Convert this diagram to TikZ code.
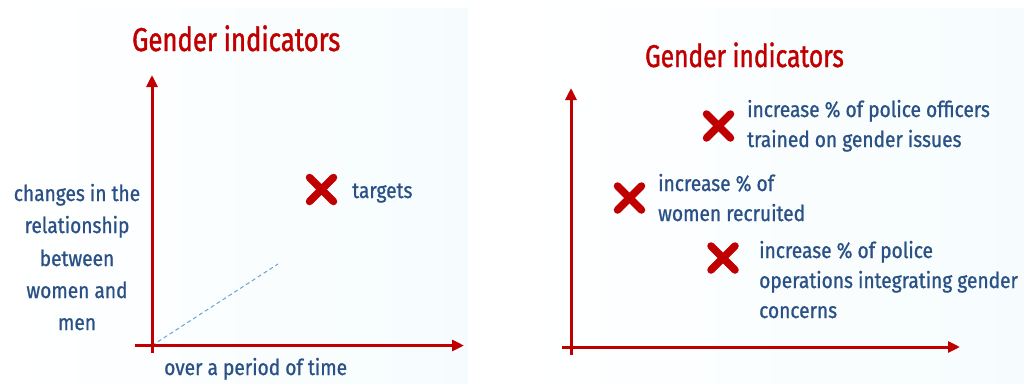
\documentclass[tikz,border=0pt]{standalone}
\usepackage{fontspec}
\setmainfont{Fira Sans}
\newfontfamily\ttlfont[FakeStretch=0.78,FakeBold=1.2]{Fira Sans}
\newfontfamily\txtfont[FakeStretch=0.87,FakeBold=0.9]{Fira Sans}
\usetikzlibrary{arrows.meta,calc}
\definecolor{axred}{HTML}{C00000}
\definecolor{txtblue}{HTML}{2A5186}
\definecolor{dashblue}{HTML}{6FA0D8}
\definecolor{panelend}{HTML}{F6FCFE}
\tikzset{
  axis/.style={draw=axred, line width=3pt, -{Triangle[length=12pt,width=11pt]}},
  ttl/.style={text=axred, font=\ttlfont\fontsize{33}{33}\selectfont, inner sep=0pt, anchor=base west},
  ttlsm/.style={ttl, font=\ttlfont\fontsize{31.5}{31.5}\selectfont},
  lbl/.style={text=txtblue, font=\txtfont\fontsize{22}{22}\selectfont, inner sep=0pt, anchor=base west},
  clbl/.style={lbl, anchor=base},
  xmark/.style={draw=axred, line width=7.5pt, line cap=round},
  panel/.style={left color=white, right color=panelend, draw=none}
}
\begin{document}
\begin{tikzpicture}[x=1pt,y=-1pt]
\useasboundingbox (0,0) rectangle (1024,383);
% panels
\fill[panel] (0,8) rectangle (468,383);
\fill[panel] (516,8) rectangle (1024,383);
% ---- left panel ----
\node[ttl] (lt) at (132,51) {Gender indicators};
\coordinate (lo) at (152,345.5);
\coordinate (lvb) at (152,353);
\coordinate (lvt) at (152,75);
\coordinate (lhl) at (135,345.5);
\coordinate (lhr) at (464,345.5);
\draw[dashblue, line width=1pt, dashed, dash pattern=on 4pt off 3pt] (lo) -- (278,264);
\draw[axis] (lvb) -- (lvt);
\draw[axis] (lhl) -- (lhr);
\coordinate (lx) at (321.5,189.5);
\draw[xmark] ($(lx)+(-12,-12)$) -- ($(lx)+(12,12)$);
\draw[xmark] ($(lx)+(-12,12)$) -- ($(lx)+(12,-12)$);
\node[lbl] (ltg) at (352,198) {targets};
\node[clbl] (ly1) at (77,201) {changes in the};
\node[clbl] (ly2) at (77,233) {relationship};
\node[clbl] (ly3) at (77,266) {between};
\node[clbl] (ly4) at (77,298) {women and};
\node[clbl] (ly5) at (77,330) {men};
\node[lbl] (lxl) at (164,375) {over a period of time};
% ---- right panel ----
\node[ttlsm] (rt) at (645,67) {Gender indicators};
\coordinate (rvb) at (571,355);
\coordinate (rvt) at (571,88);
\coordinate (rhl) at (562,347);
\coordinate (rhr) at (960,347);
\draw[axis] (rvb) -- (rvt);
\draw[axis] (rhl) -- (rhr);
\foreach \n/\px/\py in {ra/718.5/126, rb/629.5/198, rc/723/258}{
  \coordinate (\n) at (\px,\py);
  \draw[xmark] ($(\n)+(-12,-12)$) -- ($(\n)+(12,12)$);
  \draw[xmark] ($(\n)+(-12,12)$) -- ($(\n)+(12,-12)$);
}
\node[lbl] (ra1) at (747,117) {increase \% of police officers};
\node[lbl] (ra2) at (747,147) {trained on gender issues};
\node[lbl] (rb1) at (658,191) {increase \% of};
\node[lbl] (rb2) at (658,221) {women recruited};
\node[lbl] (rc1) at (759,258) {increase \% of police};
\node[lbl] (rc2) at (759,288) {operations integrating gender};
\node[lbl] (rc3) at (759,318) {concerns};
\end{tikzpicture}
\end{document}
